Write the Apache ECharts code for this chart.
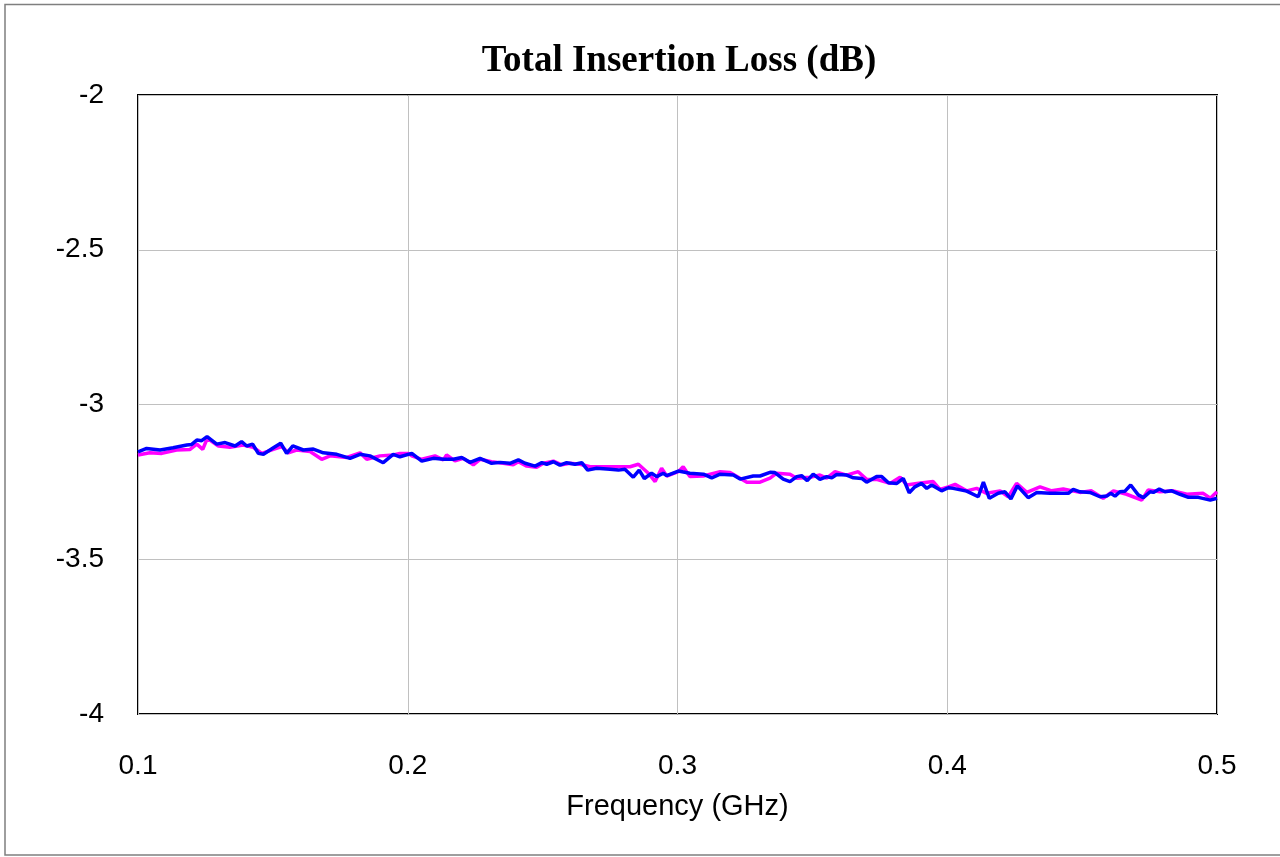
<!DOCTYPE html>
<html>
<head>
<meta charset="utf-8">
<script src="https://cdn.jsdelivr.net/npm/echarts@6/dist/echarts.min.js"></script>
<style>html,body{margin:0;padding:0;background:#fff}#c{width:1280px;height:857px}</style>
</head>
<body>
<div id="c"></div>
<script>
const titleText = 'Total Insertion Loss (dB)';
const xAxisName = 'Frequency (GHz)';
const xTicks = [0.1, 0.2, 0.3, 0.4, 0.5];
const yTicks = [-4, -3.5, -3, -2.5, -2];

const pinkFreq = [0.1,0.1044,0.1088,0.1143,0.1193,0.1218,0.1240,0.1257,0.1298,0.1341,0.1390,0.1427,0.1459,0.1502,0.1533,0.1557,0.1588,0.1638,0.1681,0.1712,0.1774,0.1823,0.1848,0.1897,0.1946,0.1971,0.2002,
0.2015,0.2052,0.2101,0.2132,0.2144,0.2175,0.2206,0.2243,0.2268,0.2311,0.2354,0.2391,0.2410,0.2441,0.2478,0.2503,0.2540,0.2571,0.2601,0.2639,0.2676,0.2725,0.2787,0.2824,0.2855,0.2892,0.2917,0.2941,0.2960,0.3003,
0.3021,0.3046,0.3096,0.3158,0.3195,0.3257,0.3306,0.3343,0.3368,0.3417,0.3442,0.3491,0.3528,0.3553,0.3584,0.3627,0.3670,0.3701,0.3738,0.3788,0.3825,0.3850,0.3887,0.3948,0.3973,0.4004,
0.4029,0.4072,0.4109,0.4146,0.4196,0.4226,0.4257,0.4295,0.4344,0.4387,0.4430,0.4492,0.4535,0.4578,0.4616,0.4665,0.4721,0.4745,0.4789,0.4838,0.4888,0.4949,0.4975,0.5];
const pinkLoss = [-3.163,-3.156,-3.158,-3.147,-3.145,-3.128,-3.145,-3.109,-3.134,-3.138,-3.131,-3.138,-3.158,-3.145,-3.136,-3.156,-3.147,-3.152,-3.177,-3.166,-3.171,-3.156,-3.177,-3.166,-3.163,-3.158,-3.158,
-3.166,-3.177,-3.166,-3.179,-3.163,-3.182,-3.174,-3.195,-3.177,-3.185,-3.190,-3.195,-3.185,-3.199,-3.203,-3.190,-3.183,-3.195,-3.190,-3.193,-3.201,-3.201,-3.201,-3.201,-3.193,-3.222,-3.249,-3.206,-3.231,-3.217,
-3.201,-3.233,-3.231,-3.217,-3.220,-3.251,-3.251,-3.238,-3.222,-3.225,-3.238,-3.235,-3.228,-3.238,-3.217,-3.228,-3.217,-3.242,-3.242,-3.255,-3.235,-3.260,-3.255,-3.249,-3.274,-3.266,
-3.258,-3.279,-3.271,-3.287,-3.279,-3.298,-3.255,-3.284,-3.266,-3.279,-3.273,-3.284,-3.279,-3.303,-3.279,-3.290,-3.309,-3.276,-3.282,-3.279,-3.290,-3.287,-3.303,-3.282];

const blueFreq = [0.1,0.1032,0.1082,0.1130,0.1181,0.1199,0.1218,0.1236,0.1256,0.1292,0.1323,0.1360,0.1384,0.1403,0.1425,0.1446,0.1465,0.1502,0.1529,0.1551,0.1574,0.1613,0.1650,0.1687,0.1737,0.1786,0.1823,0.1860,0.1909,0.1946,0.1971,
0.2015,0.2052,0.2095,0.2132,0.2169,0.2200,0.2231,0.2268,0.2311,0.2342,0.2379,0.2410,0.2435,0.2472,0.2497,0.2515,0.2540,0.2564,0.2589,0.2620,0.2645,0.2667,0.2700,0.2750,0.2781,0.2805,0.2836,0.2858,0.2877,0.2904,0.2923,0.2947,0.2960,0.3003,
0.3046,0.3096,0.3127,0.3158,0.3207,0.3232,0.3281,0.3306,0.3343,0.3361,0.3392,0.3417,0.3442,0.3460,0.3481,0.3503,0.3528,0.3553,0.3572,0.3590,0.3627,0.3652,0.3683,0.3701,0.3738,0.3757,0.3782,0.3813,0.3837,0.3859,0.3880,0.3905,0.3924,0.3942,0.3979,0.4004,
0.4022,0.4072,0.4115,0.4134,0.4156,0.4189,0.4214,0.4236,0.4260,0.4300,0.4332,0.4381,0.4449,0.4467,0.4492,0.4529,0.4566,0.4591,0.4606,0.4622,0.4640,0.4659,0.4680,0.4708,0.4727,0.4752,0.4764,0.4786,0.4807,0.4832,0.4863,0.4894,0.4931,0.4975,0.5];
const blueLoss = [-3.153,-3.142,-3.147,-3.140,-3.131,-3.129,-3.115,-3.117,-3.104,-3.128,-3.123,-3.134,-3.120,-3.134,-3.128,-3.158,-3.161,-3.140,-3.125,-3.158,-3.134,-3.147,-3.144,-3.156,-3.161,-3.174,-3.161,-3.166,-3.188,-3.161,-3.169,
-3.158,-3.183,-3.174,-3.177,-3.177,-3.171,-3.187,-3.174,-3.190,-3.187,-3.190,-3.179,-3.190,-3.199,-3.188,-3.193,-3.185,-3.196,-3.188,-3.193,-3.188,-3.212,-3.206,-3.209,-3.212,-3.209,-3.235,-3.212,-3.239,-3.222,-3.233,-3.222,-3.230,-3.215,
-3.222,-3.225,-3.237,-3.225,-3.228,-3.241,-3.231,-3.231,-3.219,-3.220,-3.241,-3.249,-3.233,-3.230,-3.246,-3.225,-3.242,-3.233,-3.237,-3.226,-3.228,-3.237,-3.239,-3.251,-3.233,-3.233,-3.253,-3.255,-3.239,-3.285,-3.266,-3.255,-3.271,-3.260,-3.279,-3.269,
-3.271,-3.280,-3.298,-3.251,-3.303,-3.287,-3.282,-3.305,-3.263,-3.301,-3.284,-3.287,-3.287,-3.274,-3.282,-3.284,-3.298,-3.296,-3.287,-3.296,-3.282,-3.280,-3.260,-3.292,-3.301,-3.282,-3.284,-3.273,-3.282,-3.279,-3.290,-3.300,-3.300,-3.309,-3.303];

const pinkData = pinkFreq.map((f, i) => [f, pinkLoss[i]]);
const blueData = blueFreq.map((f, i) => [f, blueLoss[i]]);

const chart = echarts.init(document.getElementById('c'), null, {renderer: 'canvas'});
chart.setOption({
  backgroundColor: '#ffffff',
  animation: false,
  graphic: [{
    type: 'rect', z: -10, silent: true,
    shape: {x: 5, y: 4.5, width: 1290, height: 850.5},
    style: {fill: 'none', stroke: '#7f7f7f', lineWidth: 1.5}
  }],
  title: {
    text: titleText,
    left: 674, top: 38, textAlign: 'center',
    textStyle: {fontFamily: 'Liberation Serif', fontWeight: 'bold', fontSize: 37, color: '#000'}
  },
  grid: {
    left: 138, right: 63, top: 95, bottom: 143,
    show: true, borderColor: '#000', borderWidth: 2, backgroundColor: 'transparent'
  },
  xAxis: {
    type: 'value', min: xTicks[0], max: xTicks[xTicks.length - 1], interval: 0.1,
    name: xAxisName, nameLocation: 'middle', nameGap: 78,
    nameTextStyle: {fontFamily: 'Liberation Sans', fontSize: 29, color: '#000'},
    axisLine: {show: false}, axisTick: {show: false},
    axisLabel: {fontFamily: 'Liberation Sans', fontSize: 28, color: '#000', margin: 38,
      formatter: v => (Math.round(v * 10) / 10).toString()},
    splitLine: {show: true, lineStyle: {color: '#c0c0c0', width: 1}}
  },
  yAxis: {
    type: 'value', min: yTicks[0], max: yTicks[yTicks.length - 1], interval: 0.5,
    axisLine: {show: false}, axisTick: {show: false},
    axisLabel: {fontFamily: 'Liberation Sans', fontSize: 28, color: '#000', margin: 34},
    splitLine: {show: true, lineStyle: {color: '#c0c0c0', width: 1}}
  },
  series: [
    {type: 'line', data: pinkData, showSymbol: false, symbol: 'none',
      lineStyle: {color: '#ff00ff', width: 3.5}, itemStyle: {color: '#ff00ff'}, z: 3},
    {type: 'line', data: blueData, showSymbol: false, symbol: 'none',
      lineStyle: {color: '#0000ff', width: 3.5}, itemStyle: {color: '#0000ff'}, z: 4}
  ]
});
</script>
</body>
</html>
